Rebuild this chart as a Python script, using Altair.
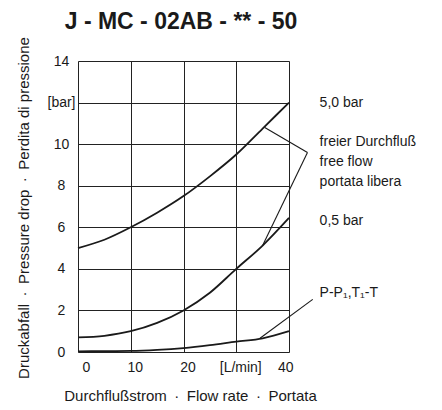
import altair as alt
import pandas as pd

flow = [0, 5, 10, 15, 20, 25, 30, 35, 40]
dp_50 = [5.0, 5.4, 6.0, 6.7, 7.5, 8.45, 9.5, 10.75, 12.0]
dp_05 = [0.7, 0.78, 1.0, 1.4, 2.0, 2.85, 4.0, 5.12, 6.45]
dp_pt = [0.03, 0.04, 0.05, 0.1, 0.19, 0.33, 0.5, 0.66, 1.0]

series_names = ["5,0 bar", "0,5 bar", "P-P1,T1-T"]

# leader lines: (x, y) pairs in data units
lead_free_a_x = [35.4, 43.5]
lead_free_a_y = [10.8, 9.6]
lead_free_b_x = [35.0, 43.5]
lead_free_b_y = [5.12, 9.6]
lead_pt_x = [34.5, 44.5]
lead_pt_y = [0.66, 2.53]

label_texts = ["5,0 bar", "freier Durchfluß", "free flow", "portata libera", "0,5 bar", "P-P₁,T₁-T"]
label_x = [45.8, 45.8, 45.8, 45.8, 45.8, 45.8]
label_y = [12.0, 10.1, 9.13, 8.2, 6.3, 2.82]

SEP = "\u2002·\u2002"
x_title = SEP.join(["Durchflußstrom", "Flow rate", "Portata"])
y_title = SEP.join(["Druckabfall", "Pressure drop", "Perdita di pressione"])

rows = []
for name, ys in zip(series_names, [dp_50, dp_05, dp_pt]):
    for xv, yv in zip(flow, ys):
        rows.append({"series": name, "q": xv, "dp": yv})
curves = pd.DataFrame(rows)

lrows = []
for gid, xs, ys in [("a", lead_free_a_x, lead_free_a_y), ("b", lead_free_b_x, lead_free_b_y), ("c", lead_pt_x, lead_pt_y)]:
    for i, (xv, yv) in enumerate(zip(xs, ys)):
        lrows.append({"g": gid, "q": xv, "dp": yv, "o": i})
leaders = pd.DataFrame(lrows)

labels = pd.DataFrame({"t": label_texts, "q": label_x, "dp": label_y})

FONT = "Liberation Sans"
INK = "#1a1a1a"

xscale = alt.Scale(domain=[0, 40], nice=False, zero=False)
yscale = alt.Scale(domain=[0, 14], nice=False)

xaxis = alt.Axis(
    values=[0, 10, 20, 30, 40], grid=True, gridColor="#222", gridWidth=1, gridOpacity=1,
    ticks=False, tickSize=0, domain=False, labelFont=FONT, labelFontSize=14, labelColor=INK,
    labelPadding=8, labelOffset=4,
    labelExpr="datum.value == 30 ? '[L/min]' : datum.label",
    title=x_title, titleFont=FONT, titleFontSize=15,
    titleFontWeight="normal", titleColor=INK, titleX=112, titleY=48.5,
    titleBaseline="alphabetic", titleAlign="center",
)
yaxis = alt.Axis(
    values=[0, 2, 4, 6, 8, 10, 12, 14], grid=True, gridColor="#222", gridWidth=1, gridOpacity=1,
    ticks=False, tickSize=0, domain=False, labelFont=FONT, labelFontSize=14, labelColor=INK,
    labelAlign="center", labelPadding=17, labelBaseline="middle",
    labelExpr="datum.value == 12 ? '[bar]' : datum.label",
    title=y_title, titleFont=FONT, titleFontSize=15,
    titleFontWeight="normal", titleColor=INK, titleX=-55, titleY=146.5, titleAngle=-90,
    titleBaseline="middle", titleAlign="center",
)

base = alt.Chart(curves)
lines = base.mark_line(color=INK, strokeWidth=1.8, interpolate="monotone", clip=False).encode(
    x=alt.X("q:Q", scale=xscale, axis=xaxis),
    y=alt.Y("dp:Q", scale=yscale, axis=yaxis),
    detail="series:N",
)

lead = alt.Chart(leaders).mark_line(color=INK, strokeWidth=1.1, clip=False).encode(
    x=alt.X("q:Q", scale=xscale),
    y=alt.Y("dp:Q", scale=yscale),
    detail="g:N",
    order="o:Q",
)

txt = alt.Chart(labels).mark_text(
    align="left", baseline="middle", font=FONT, fontSize=14, color=INK, clip=False
).encode(
    x=alt.X("q:Q", scale=xscale),
    y=alt.Y("dp:Q", scale=yscale),
    text="t:N",
)

chart = alt.layer(lines, lead, txt).properties(
    width=211, height=291,
    title=alt.TitleParams(
        "J - MC - 02AB - ** - 50", font=FONT, fontSize=23, fontWeight="bold", color=INK,
        anchor="middle", frame="group", dx=-2.5, offset=3,
    ),
    autosize=alt.AutoSizeParams(type="none"),
    padding={"left": 70, "top": 53, "right": 145, "bottom": 58},
).configure_view(stroke=INK, strokeWidth=1).configure(background="white")

chart.save("out.html", embed_options={"renderer": "svg", "actions": False})
